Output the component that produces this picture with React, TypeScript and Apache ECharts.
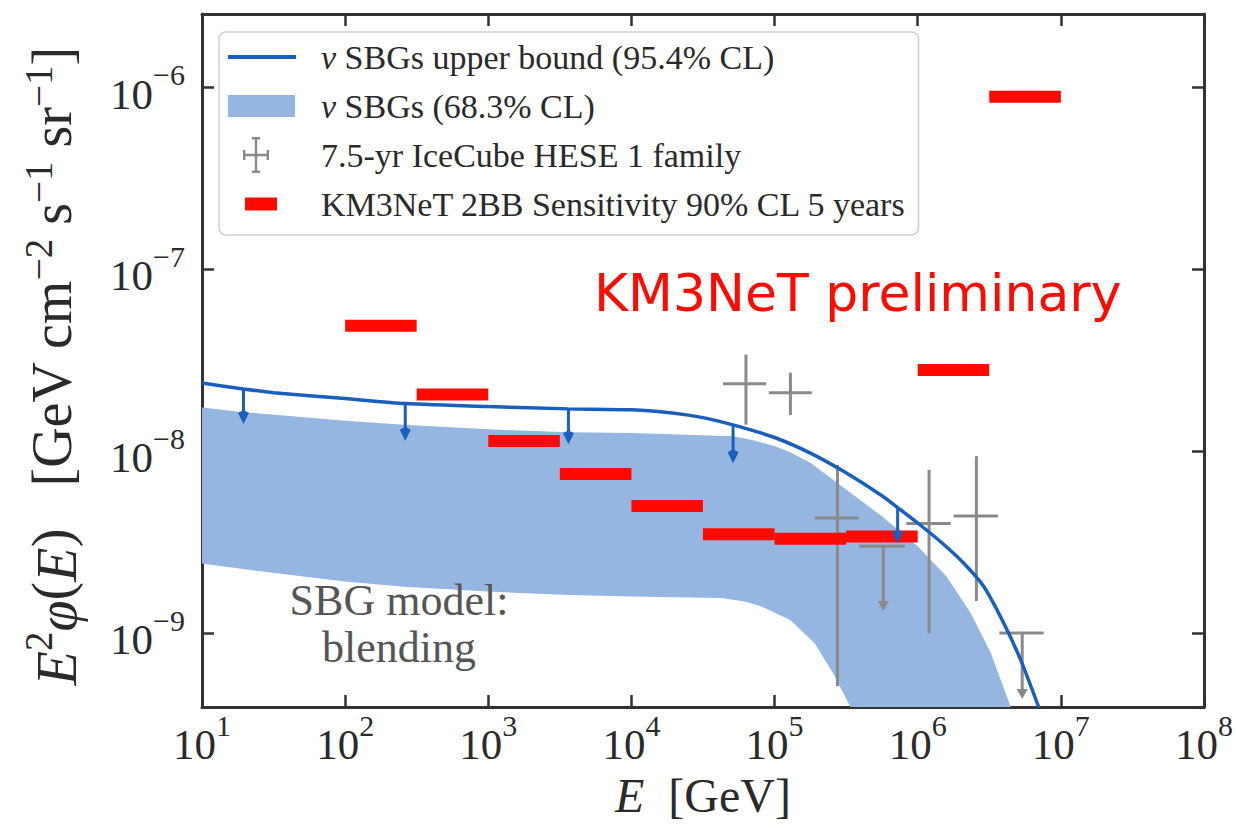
import React, { useEffect, useRef } from 'react';
import * as echarts from 'echarts';

// ---------- axis ranges ----------
const X_MIN = 10;
const X_MAX = 1e8;
const Y_MIN = 3.92e-10;
const Y_MAX = 2.54e-6;

// ---------- nu SBGs upper bound (95.4% CL) ----------
const boundX = [10, 19.5, 31.6, 100, 263, 1000, 3630, 1e4, 19950, 31620, 51300, 1e5, 177800, 295100, 562300, 724000, 1e6, 1.479e6, 2.089e6, 2.884e6, 3.89e6, 5.248e6, 7.0e6];
const boundY = [2.37e-8, 2.2e-8, 2.1e-8, 1.95e-8, 1.83e-8, 1.76e-8, 1.71e-8, 1.69e-8, 1.62e-8, 1.53e-8, 1.396e-8, 1.19e-8, 9.77e-9, 7.85e-9, 5.69e-9, 4.9e-9, 4.03e-9, 3.13e-9, 2.43e-9, 1.81e-9, 1.18e-9, 7.1e-10, 3.92e-10];

// upper-limit arrows drawn on the bound
const arrowX = [19.5, 263, 3630, 51300, 724000];
const arrowTop = [2.2e-8, 1.83e-8, 1.71e-8, 1.396e-8, 4.9e-9];
const arrowEnd = [1.45e-8, 1.17e-8, 1.12e-8, 8.8e-9, 3.2e-9];

// ---------- nu SBGs (68.3% CL) band ----------
const bandUpperX = [10, 19.5, 100, 257, 1000, 3631, 1e4, 51290, 70800, 1e5, 131800, 177800, 295100, 562300, 1e6, 1.585e6, 2.344e6, 3.236e6, 4.467e6];
const bandUpperY = [1.74e-8, 1.64e-8, 1.47e-8, 1.4e-8, 1.32e-8, 1.27e-8, 1.26e-8, 1.21e-8, 1.148e-8, 1.067e-8, 9.77e-9, 8.63e-9, 6.41e-9, 4.39e-9, 3.0e-9, 2.05e-9, 1.29e-9, 7.8e-10, 3.92e-10];
const bandLowerX = [10, 33.1, 100, 257, 1000, 3631, 1e4, 42660, 63100, 81280, 128800, 190500, 257000, 338800];
const bandLowerY = [2.41e-9, 2.13e-9, 1.92e-9, 1.8e-9, 1.69e-9, 1.62e-9, 1.59e-9, 1.56e-9, 1.486e-9, 1.4e-9, 1.18e-9, 8.8e-10, 6.0e-10, 3.92e-10];

// ---------- 7.5-yr IceCube HESE 1 family ----------
const heseX = [63100, 129000, 275000, 575000, 1.2e6, 2.57e6, 5.37e6];
const heseXLo = [43700, 91200, 191000, 389000, 832000, 1.78e6, 3.72e6];
const heseXHi = [87100, 182000, 389000, 813000, 1.7e6, 3.63e6, 7.59e6];
const heseY = [2.35e-8, 2.1e-8, 4.3e-9, 3.0e-9, 4.0e-9, 4.4e-9, 1.0e-9];
const heseYLo = [1.4e-8, 1.58e-8, 5.1e-10, 1.34e-9, 1.0e-9, 1.5e-9, 4.4e-10];
const heseYHi = [3.4e-8, 2.7e-8, 8.4e-9, 3.0e-9, 7.9e-9, 9.4e-9, 1.0e-9];
const heseUpperLimit = [0, 0, 0, 1, 0, 0, 1];

// ---------- KM3NeT 2BB sensitivity ----------
const kmXStart = [100, 316, 1000, 3160, 1e4, 3.16e4, 1e5, 3.16e5, 1e6, 3.16e6];
const kmXEnd = [316, 1000, 3160, 1e4, 3.16e4, 1e5, 3.16e5, 1e6, 3.16e6, 1e7];
const kmY = [4.9e-8, 2.05e-8, 1.14e-8, 7.5e-9, 5.0e-9, 3.5e-9, 3.3e-9, 3.4e-9, 2.8e-8, 8.9e-7];

// ---------- texts ----------
const LEG_BOUND = 'ν SBGs upper bound (95.4% CL)';
const LEG_BAND = 'ν SBGs (68.3% CL)';
const LEG_HESE = '7.5-yr IceCube HESE 1 family';
const LEG_KM3 = 'KM3NeT 2BB Sensitivity 90% CL 5 years';

const BLUE = '#1a5fbd';
const BAND = '#95b6e1';
const GREY = '#8a8a8a';
const RED = '#ff0a00';
const INK = '#2a2a2a';
const SERIF = 'Liberation Serif';

function tickLabel(v: number): string {
  const e = Math.log10(v);
  const r = Math.round(e);
  if (Math.abs(e - r) > 1e-6) return '';
  const s = r < 0 ? '\u2212' + String(-r) : String(r);
  return '{b|10}{s|' + s + '}';
}

const tickRich = {
  b: { fontFamily: SERIF, fontSize: 43, lineHeight: 56, color: INK, verticalAlign: 'bottom' },
  s: { fontFamily: SERIF, fontSize: 30, lineHeight: 30, color: INK, verticalAlign: 'top' },
};

const frameLine = { show: true, onZero: false, lineStyle: { color: '#333', width: 3 } };
const frameTick = { show: true, inside: true, length: 12, lineStyle: { color: '#333', width: 2.5 } };

function buildOption() {
  const boundData = boundX.map((x, i) => [x, boundY[i]]);
  const arrowData = arrowX.map((x, i) => [x, arrowTop[i], arrowEnd[i]]);
  const heseData = heseX.map((x, i) => [x, heseXLo[i], heseXHi[i], heseY[i], heseYLo[i], heseYHi[i], heseUpperLimit[i]]);
  const kmData = kmXStart.map((x, i) => [x, kmXEnd[i], kmY[i]]);

  return {
    animation: false,
    backgroundColor: '#ffffff',
    grid: { left: 202, right: 29, top: 14, bottom: 126, containLabel: false },
    xAxis: [
      {
        type: 'log', logBase: 10, min: X_MIN, max: X_MAX, position: 'bottom',
        axisLine: frameLine, axisTick: frameTick, splitLine: { show: false }, minorTick: { show: false },
        axisLabel: { formatter: tickLabel, rich: tickRich, margin: 3 },
        name: '{i|E}  [GeV]', nameLocation: 'middle', nameGap: 64,
        nameTextStyle: {
          fontFamily: SERIF, fontSize: 48, color: INK,
          rich: { i: { fontFamily: SERIF, fontSize: 48, fontStyle: 'italic', color: INK } },
        },
      },
      {
        type: 'log', logBase: 10, min: X_MIN, max: X_MAX, position: 'top',
        axisLine: frameLine, axisTick: frameTick, splitLine: { show: false }, axisLabel: { show: false },
      },
    ],
    yAxis: [
      {
        type: 'log', logBase: 10, min: Y_MIN, max: Y_MAX, position: 'left', splitNumber: 4,
        axisLine: frameLine, axisTick: frameTick, splitLine: { show: false }, minorTick: { show: false },
        axisLabel: { formatter: tickLabel, rich: tickRich, margin: 17 },
      },
      {
        type: 'log', logBase: 10, min: Y_MIN, max: Y_MAX, position: 'right', splitNumber: 4,
        axisLine: frameLine, axisTick: frameTick, splitLine: { show: false }, axisLabel: { show: false },
      },
    ],
    legend: {
      orient: 'vertical', left: 219, top: 32, z: 20,
      padding: [7, 12, 13, 9], itemGap: 13, itemWidth: 88, itemHeight: 36,
      backgroundColor: 'rgba(255,255,255,0.85)', borderColor: '#cfcfcf', borderWidth: 1.5, borderRadius: 7,
      selectedMode: false,
      textStyle: {
        fontFamily: SERIF, fontSize: 34, color: INK,
        rich: { g: { fontFamily: SERIF, fontSize: 34, fontStyle: 'italic', color: INK } },
      },
      formatter: (name: string) => (name.charAt(0) === 'ν' ? '{g|ν}' + name.slice(1) : name),
      data: [
        { name: LEG_BOUND, icon: 'path://M0,0M88,36M0,16H68V20H0Z', itemStyle: { color: BLUE, borderWidth: 0 } },
        { name: LEG_BAND, icon: 'path://M0,0M88,36M0,7H67V29H0Z', itemStyle: { color: BAND, borderWidth: 0 } },
        {
          name: LEG_HESE,
          icon: 'path://M0,0M88,36M16,16.8H40V19.2H16ZM26.8,0H29.2V36H26.8ZM24,0H32V2.4H24ZM24,33.6H32V36H24ZM15,13H17.4V23H15ZM38.6,13H41V23H38.6Z',
          itemStyle: { color: GREY, borderWidth: 0 },
        },
        { name: LEG_KM3, icon: 'path://M0,0M88,36M17,11.5H49V24.5H17Z', itemStyle: { color: RED, borderWidth: 0 } },
      ],
    },
    graphic: [
      {
        type: 'text', x: 594, y: 293, z: 100,
        style: { text: 'KM3NeT preliminary', fontFamily: 'DejaVu Sans', fontSize: 52, fill: RED, align: 'left', verticalAlign: 'middle' },
      },
      {
        type: 'text', x: 399, y: 624, z: 100,
        style: { text: 'SBG model:\nblending', fontFamily: SERIF, fontSize: 44, lineHeight: 47, fill: '#555', align: 'center', verticalAlign: 'middle' },
      },
      {
        type: 'text', x: 52, y: 366, z: 100, rotation: Math.PI / 2,
        style: {
          text: '{i|E}{s|2}{i|φ}({i|E})   [GeV cm{s|\u22122} s{s|\u22121} sr{s|\u22121}]',
          fontFamily: SERIF, fontSize: 56, lineHeight: 66, fill: INK, align: 'center', verticalAlign: 'middle',
          rich: {
            i: { fontFamily: SERIF, fontSize: 56, lineHeight: 66, fontStyle: 'italic', fill: INK, verticalAlign: 'bottom' },
            s: { fontFamily: SERIF, fontSize: 39, lineHeight: 30, fill: INK, verticalAlign: 'top' },
          },
        },
      },
    ],
    series: [
      {
        name: LEG_BAND,
        type: 'custom', z: 1, silent: true,
        itemStyle: { color: BAND },
        data: [[bandUpperX[0], bandUpperY[0]]],
        encode: { x: 0, y: 1 },
        renderItem: (_params: any, api: any) => {
          const pts: number[][] = [];
          for (let i = 0; i < bandUpperX.length; i++) pts.push(api.coord([bandUpperX[i], bandUpperY[i]]));
          for (let i = bandLowerX.length - 1; i >= 0; i--) pts.push(api.coord([bandLowerX[i], bandLowerY[i]]));
          return { type: 'polygon', shape: { points: pts }, style: { fill: BAND } };
        },
      },
      {
        name: LEG_HESE,
        type: 'custom', z: 2, silent: true,
        itemStyle: { color: GREY },
        data: heseData,
        encode: { x: [0, 1, 2], y: [3, 4, 5] },
        renderItem: (_params: any, api: any) => {
          const x = api.value(0), xl = api.value(1), xh = api.value(2);
          const y = api.value(3), yl = api.value(4), yh = api.value(5), ul = api.value(6);
          const pl = api.coord([xl, y]);
          const ph = api.coord([xh, y]);
          const pc = api.coord([x, y]);
          const pLo = api.coord([x, yl]);
          const pHi = api.coord([x, yh]);
          const st = { stroke: GREY, lineWidth: 3 };
          const children: any[] = [
            { type: 'line', shape: { x1: pl[0], y1: pl[1], x2: ph[0], y2: ph[1] }, style: st },
          ];
          if (ul) {
            children.push({ type: 'line', shape: { x1: pc[0], y1: pc[1], x2: pLo[0], y2: pLo[1] - 6 }, style: st });
            children.push({
              type: 'polygon',
              shape: { points: [[pLo[0] - 5.5, pLo[1] - 9], [pLo[0] + 5.5, pLo[1] - 9], [pLo[0], pLo[1] + 1]] },
              style: { fill: GREY },
            });
          } else {
            children.push({ type: 'line', shape: { x1: pHi[0], y1: pHi[1], x2: pLo[0], y2: pLo[1] }, style: st });
          }
          return { type: 'group', children };
        },
      },
      {
        name: LEG_KM3,
        type: 'custom', z: 3, silent: true,
        itemStyle: { color: RED },
        data: kmData,
        encode: { x: [0, 1], y: 2 },
        renderItem: (_params: any, api: any) => {
          const p0 = api.coord([api.value(0), api.value(2)]);
          const p1 = api.coord([api.value(1), api.value(2)]);
          return { type: 'rect', shape: { x: p0[0], y: p0[1] - 6, width: p1[0] - p0[0], height: 12 }, style: { fill: RED } };
        },
      },
      {
        name: LEG_BOUND,
        type: 'line', z: 4, silent: true,
        data: boundData,
        smooth: 0.2,
        showSymbol: false, symbol: 'none',
        itemStyle: { color: BLUE },
        lineStyle: { color: BLUE, width: 3.5 },
      },
      {
        name: 'bound arrows',
        type: 'custom', z: 5, silent: true,
        itemStyle: { color: BLUE },
        data: arrowData,
        encode: { x: 0, y: [1, 2] },
        renderItem: (_params: any, api: any) => {
          const top = api.coord([api.value(0), api.value(1)]);
          const end = api.coord([api.value(0), api.value(2)]);
          return {
            type: 'group',
            children: [
              { type: 'line', shape: { x1: top[0], y1: top[1], x2: end[0], y2: end[1] - 6 }, style: { stroke: BLUE, lineWidth: 3 } },
              {
                type: 'polygon',
                shape: { points: [[end[0] - 5.5, end[1] - 9], [end[0], end[1] - 12], [end[0] + 5.5, end[1] - 9], [end[0], end[1] + 2]] },
                style: { fill: BLUE },
              },
            ],
          };
        },
      },
    ],
  };
}

export default function App() {
  const ref = useRef<HTMLDivElement>(null);
  useEffect(() => {
    if (!ref.current) return;
    const chart = echarts.init(ref.current, null, { renderer: 'svg' });
    chart.setOption(buildOption() as any);
    return () => chart.dispose();
  }, []);
  return (
    <div
      ref={ref}
      style={{ position: 'fixed', left: 0, top: 0, width: 1236, height: 833, background: '#ffffff' }}
    />
  );
}
